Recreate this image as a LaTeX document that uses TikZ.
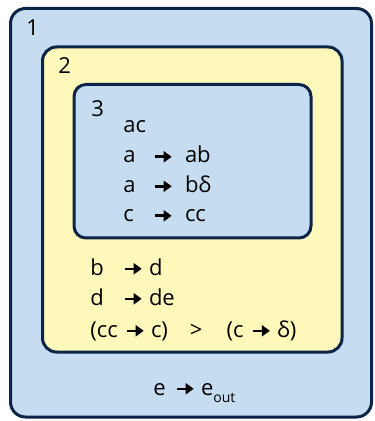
\documentclass[tikz,border=0pt]{standalone}
\usepackage{fontspec}
\setmainfont{Open Sans}
\usetikzlibrary{arrows.meta}
\definecolor{membrane}{RGB}{198,220,240}
\definecolor{region}{RGB}{255,248,187}
\definecolor{edge}{RGB}{12,36,72}
\newcommand{\ra}{\tikz[baseline=-3.1pt]\draw[line width=1.3pt,-{Triangle[length=4pt,width=5.5pt]}] (0,0) -- (8.5pt,0);}

\begin{document}
\begin{tikzpicture}[x=0.5pt, y=-0.5pt,
  wall/.style={draw=edge, line width=1.5pt},
  txt/.style={anchor=base west, inner sep=0pt, font=\fontsize{11}{13}\selectfont}]
\useasboundingbox (0,0) rectangle (374,421);
% membranes
\draw[wall, fill=membrane, rounded corners=7.5pt] (10.5,8.5) rectangle (371.5,417);
\draw[wall, fill=region, rounded corners=7pt] (42.5,47) rectangle (342,352);
\draw[wall, fill=membrane, rounded corners=6pt] (74,84.5) rectangle (311,238);
% labels
\node[txt] (n1) at (26,36) {1};
\node[txt] (n2) at (58,74) {2};
\node[txt] (n3) at (91,117) {3};
% rules of membrane 3
\node[txt] (ac) at (123,133) {ac};
\node[txt] (r31) at (123,163) {\makebox[15pt][l]{a}\ra\hspace{6pt}ab};
\node[txt] (r32) at (123,192.5) {\makebox[15pt][l]{a}\ra\hspace{6pt}bδ};
\node[txt] (r33) at (123,222) {\makebox[15pt][l]{c}\ra\hspace{6pt}cc};
% rules of membrane 2
\node[txt] (r21) at (90,275) {\makebox[16.5pt][l]{b}\ra\hspace{3pt}d};
\node[txt] (r22) at (90,305) {\makebox[16.5pt][l]{d}\ra\hspace{3pt}de};
\node[txt] (r23) at (90,337) {\makebox[17.5pt][l]{(cc}\ra\hspace{3pt}c)\hspace{11pt}>\hspace{12pt}(c\hspace{4pt}\ra\hspace{3pt}δ)};
% rule of membrane 1
\node[txt] (r11) at (153,395) {\makebox[11pt][l]{e}\ra\hspace{3pt}e\raisebox{-3.5pt}{\scriptsize out}};
\end{tikzpicture}
\end{document}
